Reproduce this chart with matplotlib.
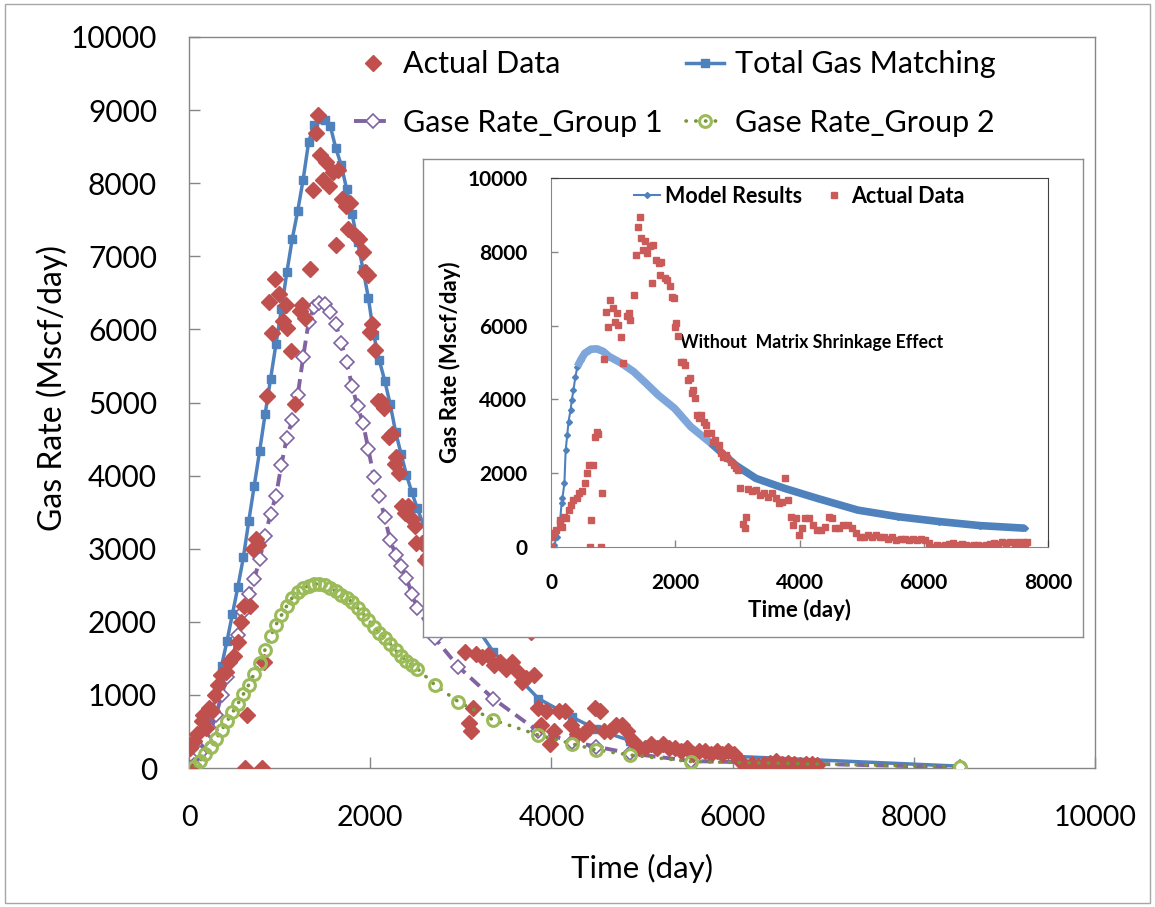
import numpy as np
import matplotlib
matplotlib.use('Agg')
import matplotlib.pyplot as plt

plt.rcParams['font.family'] = ['Lato', 'DejaVu Sans']

# ---- model curves (main chart) ----
t_model = [60, 120, 180, 240, 300, 360, 420, 480, 540, 600, 660, 720, 780, 840, 900, 960,
           1020, 1080, 1140, 1200, 1260, 1320, 1380, 1440, 1500, 1560, 1620, 1680, 1740, 1800,
           1860, 1920, 1980, 2040, 2100, 2160, 2220, 2280, 2340, 2400, 2460, 2520,
           2715, 2973, 3359, 3856, 4222, 4497, 4867, 5546, 8510]
q_total = [40, 200, 440, 700, 1000, 1400, 1740, 2110, 2480, 2880, 3380, 3860, 4340, 4840, 5320, 5800,
           6280, 6780, 7240, 7620, 8050, 8560, 8800, 8880, 8860, 8780, 8480, 8250, 7920, 7580,
           7200, 6830, 6430, 5920, 5580, 5300, 4980, 4600, 4300, 4010, 3770, 3550,
           2900, 2290, 1590, 950, 700, 530, 375, 185, 25]
q_group1 = [40, 200, 380, 520, 730, 1000, 1250, 1490, 1820, 2140, 2380, 2580, 2860, 3170, 3480, 3720,
            4150, 4520, 4760, 5100, 5620, 6100, 6300, 6360, 6350, 6240, 6080, 5820, 5560, 5220,
            4950, 4720, 4360, 3980, 3720, 3430, 3120, 2920, 2760, 2600, 2380, 2190,
            1774, 1386, 948, 500, 360, 292, 200, 95, 10]
q_group2 = [20, 90, 190, 290, 400, 520, 640, 760, 880, 1010, 1140, 1290, 1430, 1620, 1800, 1960,
            2090, 2220, 2330, 2410, 2460, 2490, 2515, 2520, 2500, 2460, 2420, 2370, 2330, 2270,
            2190, 2110, 2030, 1930, 1850, 1780, 1700, 1610, 1530, 1470, 1410, 1360,
            1135, 907, 657, 451, 333, 246, 178, 87, 18]

# ---- measured gas rate ----
t_actual = [0, 7, 52, 85, 138, 151, 184, 216, 249, 282, 315, 348, 413, 446, 492, 544, 577, 610, 623,
            643, 675, 708, 741, 761, 807, 826, 859, 885, 918, 951, 990, 1036, 1069, 1082, 1121,
            1167, 1220, 1252, 1279, 1331, 1364, 1397, 1429, 1449, 1475, 1508, 1548, 1593, 1626,
            1646, 1692, 1738, 1757, 1777, 1843, 1875, 1921, 1941, 1974, 2000, 2020, 2052, 2085,
            2118, 2151, 2203, 2236, 2269, 2282, 2315, 2347, 2380, 2413, 2459, 2492, 2511, 2577,
            2610, 2643, 2708, 2741, 2774, 2820, 2839, 2892, 2938, 2970, 3003, 3049, 3088, 3115,
            3134, 3167, 3233, 3298, 3364, 3429, 3495, 3561, 3626, 3678, 3724, 3770, 3810, 3856,
            3888, 3941, 3987, 4033, 4085, 4151, 4216, 4282, 4347, 4413, 4478, 4531, 4577, 4642,
            4708, 4774, 4839, 4905, 4970, 5036, 5101, 5167, 5233, 5298, 5364, 5430, 5495, 5560,
            5626, 5692, 5757, 5823, 5888, 5954, 6020, 6085, 6150, 6216, 6282, 6347, 6413, 6478,
            6544, 6610, 6675, 6741, 6806, 6872, 6937, 7003, 7068, 7134, 7199, 7265, 7330, 7396,
            7462, 7495, 7560, 7593, 7626, 7658]
q_actual = [0, 280, 370, 460, 640, 730, 550, 820, 780, 1000, 1140, 1270, 1320, 1450, 1530, 1730, 2000,
            2220, 0, 730, 2220, 2990, 3130, 3050, 0, 1450, 5090, 6380, 5950, 6690, 6490, 6110,
            6330, 6020, 5700, 4980, 6250, 6330, 6150, 6830, 7910, 8680, 8930, 8380, 8050, 8290,
            7960, 8150, 7160, 8180, 7790, 7690, 7370, 7730, 7280, 7240, 7060, 6780, 6740, 5970,
            6080, 5720, 5020, 5020, 4930, 4530, 4570, 4160, 4260, 4030, 3580, 3490, 3580, 3400,
            3310, 3080, 3080, 2850, 2900, 2760, 2540, 2450, 2490, 2400, 2310, 2220, 2130, 2090,
            1590, 610, 510, 820, 1560, 1520, 1540, 1410, 1450, 1360, 1450, 1320, 1180, 1230,
            1860, 1270, 820, 590, 780, 330, 510, 780, 780, 590, 460, 460, 550, 820, 780, 510,
            510, 590, 590, 510, 370, 280, 280, 330, 280, 330, 280, 280, 230, 280, 190, 230, 230,
            190, 230, 190, 230, 190, 100, 10, 60, 30, 60, 70, 100, 60, 70, 60, 40, 60, 60, 40,
            60, 70, 100, 70, 140, 100, 140, 60, 140, 10, 140, 0, 140]

# ---- single-porosity model (inset) ----
t_nomatrix = [0, 52, 98, 138, 170, 184, 216, 236, 262, 282, 315, 334, 361, 393, 426, 479, 544,
              643, 741, 839, 938, 1134, 1331, 1528, 1724, 1987, 2249, 2577, 2970, 3298, 3757,
              4282, 4938, 5593, 6249, 6905, 7626]
q_nomatrix = [0, 54, 280, 550, 1180, 1320, 1730, 2630, 3040, 3400, 3710, 3980, 4250, 4620, 4890,
              5070, 5250, 5360, 5370, 5300, 5160, 4980, 4750, 4440, 4120, 3760, 3260, 2810, 2220,
              1860, 1590, 1320, 1000, 820, 690, 580, 510]

red = '#C0504D'
blue = '#4F81BD'
purple = '#8064A2'
green = '#9BBB59'
axis_grey = '#868686'

fig = plt.figure(figsize=(11.55, 9.07), dpi=100)
fig.patches.append(plt.Rectangle((5 / 1155, 4 / 907), 1145 / 1155, 899 / 907,
                                 transform=fig.transFigure, fill=False,
                                 ec='#A6A6A6', lw=1))

# ---------------- main chart ----------------
ax = fig.add_axes([189 / 1155, 139 / 907, 906 / 1155, 731 / 907])
ta = np.array(t_actual)
qa = np.array(q_actual)
keep = ta <= 6950

ax.plot(t_model, q_total, color=blue, lw=2.5, marker='s', ms=5.5, mec=blue, mfc=blue,
        zorder=3, label='Total Gas Matching')
ax.plot(t_model, q_group1, color=purple, lw=2.8, ls=(0, (3.2, 1.8)), marker='D', ms=7,
        mfc='white', mec=purple, mew=1.2, zorder=4, label='Gase Rate_Group 1')
ax.plot(ta[keep], qa[keep], ls='none', marker='D', ms=8, color=red, mec=red, zorder=5,
        label='Actual Data')
ax.plot(t_model, q_group2, color='#77933C', lw=2.6, ls=(0, (0.1, 2.6)),
        dash_capstyle='round', marker='o', ms=8.5, mfc='none', mec=green, mew=2.2,
        zorder=6, label='Gase Rate_Group 2')

ax.set_xlim(0, 10000)
ax.set_ylim(0, 10000)
ax.set_xticks(np.arange(0, 10001, 2000))
ax.set_yticks(np.arange(0, 10001, 1000))
for s in ax.spines.values():
    s.set_color(axis_grey)
    s.set_linewidth(1)
ax.tick_params(direction='in', length=8, width=1, color=axis_grey)
ax.tick_params(axis='x', pad=27, labelsize=20.5)
ax.tick_params(axis='y', pad=23, labelsize=21.5)
ax.set_xlabel('Time (day)', fontsize=22.5)
ax.set_ylabel('Gas Rate (Mscf/day)', fontsize=23)
ax.xaxis.set_label_coords(0.5, -0.137)
ax.xaxis.label.set_va('center')
ax.yaxis.set_label_coords(-0.151, 0.52)
ax.yaxis.label.set_va('center')

h, l = ax.get_legend_handles_labels()
order = [2, 1, 0, 3]
leg = ax.legend([h[i] for i in order], [l[i] for i in order], ncol=2, fontsize=22,
                frameon=False, loc='upper left', bbox_to_anchor=(342 / 1155, 1 - 38 / 907),
                bbox_transform=fig.transFigure, handlelength=1.25, handletextpad=0.35,
                columnspacing=0.75, labelspacing=1.0, numpoints=1, borderaxespad=0)

# ---------------- inset ----------------
frame = fig.add_axes([423 / 1155, 270 / 907, 660 / 1155, 478 / 907], zorder=2)
frame.set_xticks([])
frame.set_yticks([])
for s in frame.spines.values():
    s.set_color('#8C8C8C')
    s.set_linewidth(1)

ins = fig.add_axes([551 / 1155, 360 / 907, 497 / 1155, 369 / 907], zorder=3)
ins.patch.set_alpha(0)
tn = np.array(t_nomatrix)
qn = np.array(q_nomatrix)
ins.plot(tn, qn, color=blue, lw=1.5, marker='D', ms=3, zorder=3, label='Model Results')
band1 = (tn >= 400) & (tn <= 2600)
band2 = tn >= 2577
ins.plot(tn[band1], qn[band1], color='#7EA6DA', lw=5.5, solid_capstyle='butt', zorder=3)
ins.plot(tn[band2], qn[band2], color=blue, lw=5.5, solid_capstyle='butt', zorder=3)
ins.plot(t_actual, q_actual, ls='none', marker='s', ms=5, color='#CB5B59', zorder=4,
         label='Actual Data')

ins.set_xlim(0, 8000)
ins.set_ylim(0, 10000)
ins.set_xticks(np.arange(0, 8001, 2000))
ins.set_yticks(np.arange(0, 10001, 2000))
for side in ['left', 'bottom']:
    ins.spines[side].set_color(axis_grey)
for side in ['top', 'right']:
    ins.spines[side].set_color('#404040')
ins.tick_params(direction='in', length=5, width=1, color=axis_grey, labelsize=15)
ins.tick_params(axis='x', pad=19)
ins.tick_params(axis='y', pad=17)
for lab in ins.get_xticklabels() + ins.get_yticklabels():
    lab.set_fontweight('bold')
ins.set_xlabel('Time (day)', fontsize=16, fontweight='bold')
ins.set_ylabel('Gas Rate (Mscf/day)', fontsize=16, fontweight='bold')
ins.xaxis.set_label_coords(0.499, -0.171)
ins.xaxis.label.set_va('center')
ins.yaxis.set_label_coords(-0.203, 0.5)
ins.yaxis.label.set_va('center')

ins.legend(ncol=2, frameon=False, loc='center', bbox_to_anchor=(0.50, 0.95),
           handlelength=1.2, handletextpad=0.2, columnspacing=0.9, numpoints=1,
           prop={'weight': 'bold', 'size': 15.5})
ins.text(0.26, 0.555, 'Without  Matrix Shrinkage Effect', transform=ins.transAxes,
         fontsize=12.8, fontweight='bold', va='center', ha='left')

fig.savefig('out.png', dpi=100, facecolor='white')
